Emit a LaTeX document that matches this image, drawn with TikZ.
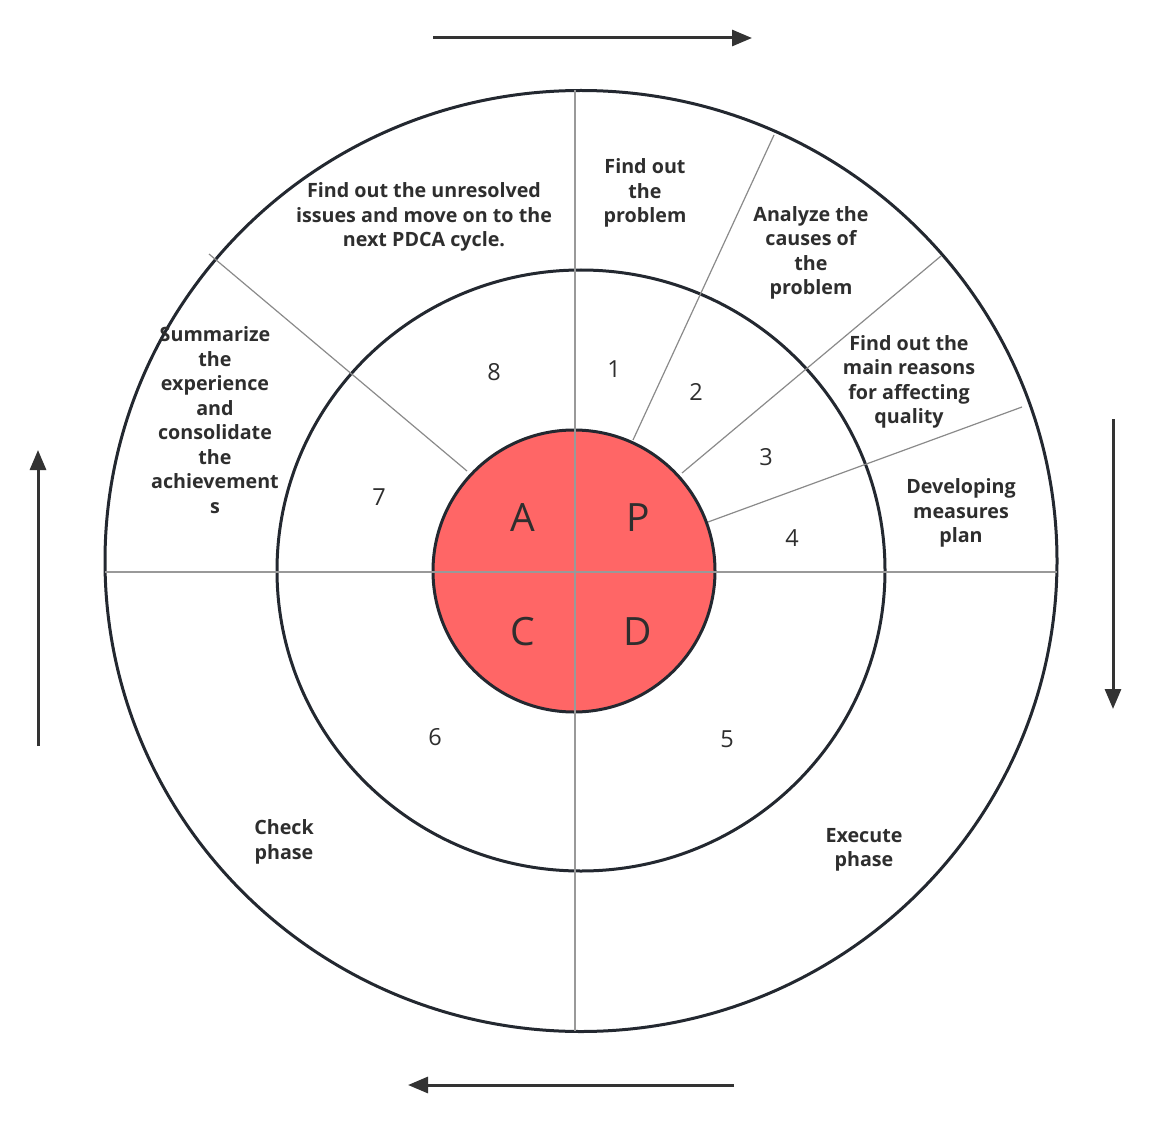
\documentclass[tikz,border=0pt]{standalone}
\usepackage{fontspec}
\setmainfont{Open Sans}
\usetikzlibrary{arrows.meta,shapes.geometric}
\definecolor{ringc}{HTML}{232830}
\definecolor{divc}{HTML}{999999}
\definecolor{redc}{HTML}{FF6666}
\definecolor{txtc}{HTML}{2E2E2E}
\definecolor{arrc}{HTML}{333333}
\tikzset{
  ring/.style={draw=ringc, line width=3pt},
  divline/.style={draw=divc, line width=1.5pt},
  radline/.style={draw=divc!90!black, line width=1.2pt},
  flowarrow/.style={draw=arrc, line width=3pt, -{Triangle[length=20pt,width=16pt]}},
  lbl/.style={text=txtc, font=\bfseries\fontsize{19.7}{24.5}\selectfont, align=center, inner sep=0pt},
  num/.style={text=txtc, font=\fontsize{23.5}{26}\selectfont, inner sep=0pt},
  big/.style={text=txtc, font=\fontsize{39}{40}\selectfont, inner sep=0pt},
}
\begin{document}
\begin{tikzpicture}[x=1pt,y=-1pt]
\useasboundingbox (0,0) rectangle (1151,1123);
% rings
\node[ring, ellipse, minimum width=952pt, minimum height=941pt, inner sep=0pt] (outer) at (581,561) {};
\node[ring, ellipse, minimum width=608pt, minimum height=601pt, inner sep=0pt] (middle) at (581,570.5) {};
% radial divider lines
\coordinate (r1a) at (633,440); \coordinate (r1b) at (774,135);
\coordinate (r2a) at (682,473); \coordinate (r2b) at (941,256);
\coordinate (r3a) at (708,522); \coordinate (r3b) at (1022,407);
\coordinate (r4a) at (467,471); \coordinate (r4b) at (209,254);
\draw[radline] (r1a) -- (r1b);
\draw[radline] (r2a) -- (r2b);
\draw[radline] (r3a) -- (r3b);
\draw[radline] (r4a) -- (r4b);
% inner circle
\node[ring, fill=redc, circle, minimum size=282pt, inner sep=0pt] (inner) at (574,571) {};
% axes
\coordinate (vt) at (575,90); \coordinate (vb) at (575,1031);
\coordinate (hl) at (105,572); \coordinate (hr) at (1057,572);
\draw[divline] (vt) -- (vb);
\draw[divline] (hl) -- (hr);
% letters
\node[big] (A) at (523,518) {A};
\node[big] (P) at (638,518) {P};
\node[big] (C) at (523,632) {C};
\node[big] (D) at (638,632) {D};
% numbers
\node[num] (n1) at (614,369) {1};
\node[num] (n2) at (696,392) {2};
\node[num] (n3) at (766,457) {3};
\node[num] (n4) at (792,538) {4};
\node[num] (n5) at (727,739) {5};
\node[num] (n6) at (435,737) {6};
\node[num] (n7) at (379,497) {7};
\node[num] (n8) at (494,372) {8};
% outer labels
\node[lbl] (t1) at (645,193) {Find out\\the\\problem};
\node[lbl] (t2) at (811,253) {Analyze the\\causes of\\the\\problem};
\node[lbl] (t3) at (909,382) {Find out the\\main reasons\\for affecting\\quality};
\node[lbl] (t4) at (961,513) {Developing\\measures\\plan};
\node[lbl] (t8) at (424,217) {Find out the unresolved\\issues and move on to the\\next PDCA cycle.};
\node[lbl] (t7) at (215,420) {Summarize\\the\\experience\\and\\consolidate\\the\\achievement\\s};
\node[lbl] (tc) at (284,842) {Check\\phase};
\node[lbl] (te) at (864,850) {Execute\\phase};
% flow arrows
\coordinate (a1s) at (433,38); \coordinate (a1e) at (752,38);
\coordinate (a2s) at (1113,419); \coordinate (a2e) at (1113,709);
\coordinate (a3s) at (734,1085); \coordinate (a3e) at (408,1085);
\coordinate (a4s) at (38,746); \coordinate (a4e) at (38,450);
\draw[flowarrow] (a1s) -- (a1e);
\draw[flowarrow] (a2s) -- (a2e);
\draw[flowarrow] (a3s) -- (a3e);
\draw[flowarrow] (a4s) -- (a4e);
\end{tikzpicture}
\end{document}
